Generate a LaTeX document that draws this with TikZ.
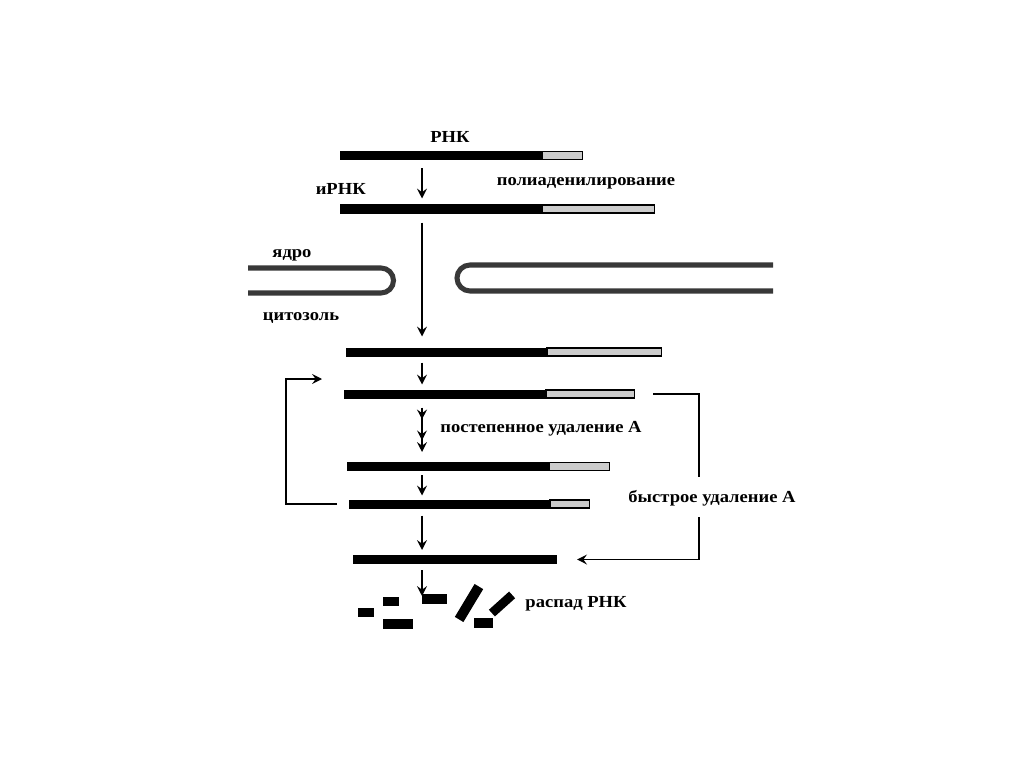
\documentclass[tikz,border=0pt]{standalone}
\usepackage{fontspec}
\setmainfont{Liberation Serif}[FakeStretch=1.1]
\usetikzlibrary{arrows.meta,decorations.markings}

\begin{document}
\begin{tikzpicture}[x=0.025cm,y=-0.025cm,
  rnacore/.style={fill=black,inner sep=0pt,outer sep=0pt,minimum height=0.225cm,anchor=west},
  polya/.style={fill=gray!40,draw=black,line width=0.8pt,inner sep=0pt,outer sep=0pt,minimum height=0.2cm,anchor=west},
  arr/.style={-{Stealth[length=7pt,width=7pt,inset=2.5pt]},line width=1.1pt},
  link/.style={line width=0.8pt},
  membrane/.style={line width=3.6pt,draw=black!78},
  lbl/.style={font=\bfseries\fontsize{12}{14}\selectfont,inner sep=0pt},
  frag/.style={fill=black,inner sep=0pt,minimum height=0.225cm}]
  \useasboundingbox (0,0) rectangle (1024,767);
  \coordinate (ax) at (422,0);

  \node[rnacore,minimum width=5.05cm] (r1) at (340,155.5) {};
  \node[polya,minimum width=1cm] (r1a) at (r1.east) {};
  \node[rnacore,minimum width=5.05cm] (r2) at (340,209) {};
  \node[polya,minimum width=2.8cm] (r2a) at (r2.east) {};
  \node[rnacore,minimum width=5.025cm] (r3) at (346,352) {};
  \node[polya,minimum width=2.85cm] (r3a) at (r3.east) {};
  \node[rnacore,minimum width=5.05cm] (r4) at (344,394) {};
  \node[polya,minimum width=2.2cm] (r4a) at (r4.east) {};
  \node[rnacore,minimum width=5.05cm] (r5) at (347,466.5) {};
  \node[polya,minimum width=1.5cm] (r5a) at (r5.east) {};
  \node[rnacore,minimum width=5.025cm] (r6) at (349,504) {};
  \node[polya,minimum width=0.975cm] (r6a) at (r6.east) {};
  \node[rnacore,minimum width=5.1cm] (r7) at (353,559.5) {};

  \node[lbl] (rna) at (450,137) {РНК};
  \node[lbl,anchor=east] (mrna) at (366,189) {иРНК};
  \node[lbl] (polyad) at (586,183) {полиаденилирование};
  \node[lbl] (nucl) at (292,255) {ядро};
  \node[lbl] (cyto) at (301,318) {цитозоль};
  \node[lbl] (slow) at (541,429) {постепенное удаление А};
  \node[lbl] (fast) at (712,498) {быстрое удаление А};
  \node[lbl] (decay) at (576,604) {распад РНК};

  \draw[membrane] (248,268) -- (381,268) arc[start angle=-90,end angle=90,radius=12.5] -- (248,293);
  \draw[membrane] (773,265) -- (470,265) arc[start angle=-90,end angle=-270,radius=13] -- (773,291);

  \draw[arr,shorten <=0.2cm,shorten >=0.15cm] (r1.south -| ax) -- (r2.north -| ax);
  \draw[arr,shorten <=0.225cm,shorten >=0.275cm] (r2.south -| ax) -- (r3.north -| ax);
  \draw[arr,shorten <=0.15cm,shorten >=0.125cm] (r3.south -| ax) -- (r4.north -| ax);
  \draw[arr,shorten <=0.225cm,shorten >=0.25cm,
    postaction={decorate,decoration={markings,
      mark=at position 0.33 with {\arrow{Stealth[length=7pt,width=7pt,inset=2.5pt]}},
      mark=at position 0.66 with {\arrow{Stealth[length=7pt,width=7pt,inset=2.5pt]}}}}]
    (r4.south -| ax) -- (r5.north -| ax);
  \draw[arr,shorten <=0.1cm,shorten >=0.1cm] (r5.south -| ax) -- (r6.north -| ax);
  \draw[arr,shorten <=0.175cm,shorten >=0.125cm] (r6.south -| ax) -- (r7.north -| ax);
  \coordinate (frtop) at (422,596);
  \draw[arr,shorten <=0.15cm] (r7.south -| ax) -- (frtop);

  \coordinate (lp) at (286,379);
  \coordinate (lpend) at (322,379);
  \draw[link,arr] (r6.west) ++(-12,0) -| (lp) -- (lpend);
  \coordinate (q1) at (699,477);
  \coordinate (q2) at (699,517);
  \draw[link] (r4a.east) ++(19,0) -| (q1);
  \draw[link,arr,shorten >=0.5cm] (q2) |- (r7.east);

  \node[frag,minimum width=0.4cm] (f1) at (366,612.5) {};
  \node[frag,minimum width=0.4cm] (f2) at (391,601.5) {};
  \node[frag,minimum width=0.75cm,minimum height=0.25cm] (f3) at (398,624) {};
  \node[frag,minimum width=0.625cm,minimum height=0.25cm] (f4) at (434.5,599) {};
  \node[frag,minimum width=0.96cm,minimum height=0.25cm,rotate=59] (f5) at (469,603) {};
  \node[frag,minimum width=0.475cm,minimum height=0.25cm] (f6) at (483.5,623) {};
  \node[frag,minimum width=0.68cm,rotate=42] (f7) at (502,604) {};
\end{tikzpicture}
\end{document}
